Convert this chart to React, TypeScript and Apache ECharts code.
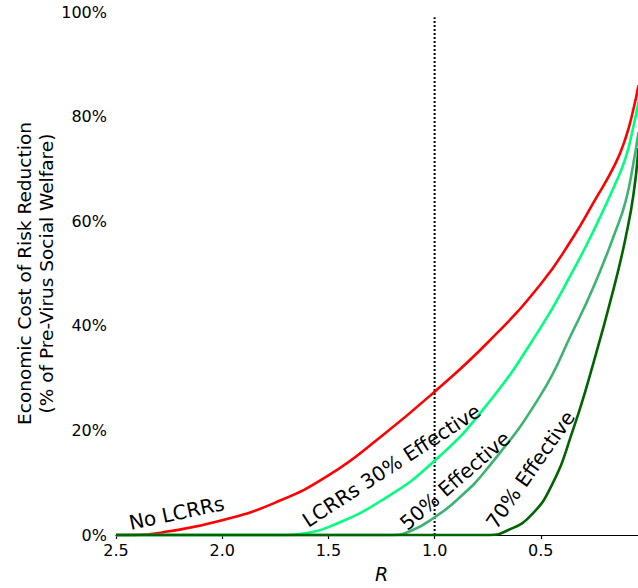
import React, { useEffect, useRef } from "react";
import * as echarts from "echarts";

// ---- Data (R on x axis, cost in % of pre-virus social welfare on y axis) ----
const X_TICKS = [2.5, 2.0, 1.5, 1.0, 0.5];
const Y_TICKS = [0, 20, 40, 60, 80, 100];

const RED_R = [2.5, 2.42, 2.25, 2.0, 1.75, 1.5, 1.25, 1.0, 0.75, 0.5, 0.35, 0.25, 0.15, 0.1, 0.064, 0.04];
const RED_V = [0, 0, 0.7, 2.8, 6.2, 11.4, 18.9, 27.4, 36.8, 48.0, 56.8, 63.7, 70.9, 76.0, 81.4, 86.0];

const L30_R = [2.5, 1.7, 1.6, 1.5, 1.25, 1.0, 0.75, 0.5, 0.35, 0.25, 0.15, 0.1, 0.064, 0.04];
const L30_V = [0, 0, 0.4, 1.5, 6.6, 14.2, 25.1, 39.7, 50.4, 58.3, 67.1, 72.2, 78.1, 82.8];

const L50_R = [2.5, 1.2, 1.1, 1.0, 0.9, 0.75, 0.5, 0.35, 0.25, 0.15, 0.1, 0.064, 0.04];
const L50_V = [0, 0, 1.0, 3.4, 6.5, 12.8, 26.8, 38.9, 47.6, 57.9, 63.9, 71.1, 77.0];

const L70_R = [2.5, 0.74, 0.65, 0.55, 0.45, 0.35, 0.25, 0.15, 0.1, 0.064, 0.04];
const L70_V = [0, 0, 1.0, 3.6, 9.4, 19.9, 33.2, 48.2, 57.0, 65.0, 74.0];

const REF_R = [1.0, 1.0];
const REF_V = [0, 99];

const LABELS = ["No LCRRs", "LCRRs 30% Effective", "50% Effective", "70% Effective"];
const LABEL_R = [2.215, 1.203, 0.904, 0.549];
const LABEL_V = [4.2, 13.3, 10.4, 12.5];
const LABEL_ANGLE = [12, 33, 41, 55];

const Y_TITLE = "Economic Cost of Risk Reduction\n(% of Pre-Virus Social Welfare)";
const X_TITLE = "R";

const FONT = "DejaVu Sans";

const pairs = (xs: number[], ys: number[]) => xs.map((x, i) => [x, ys[i]]);

export default function App() {
  const ref = useRef<HTMLDivElement>(null);

  useEffect(() => {
    if (!ref.current) return;
    const chart = echarts.init(ref.current, undefined, { renderer: "svg" });

    const curve = (name: string, xs: number[], ys: number[], color: string) => ({
      name,
      type: "line",
      data: pairs(xs, ys),
      showSymbol: false,
      smooth: 0.5,
      clip: false,
      lineStyle: { color, width: 2.6 },
      z: 3,
    });

    chart.setOption({
      animation: false,
      backgroundColor: "#ffffff",
      textStyle: { fontFamily: FONT },
      grid: { left: 116, top: 12, width: 531, height: 528, containLabel: false },
      xAxis: {
        type: "value",
        inverse: true,
        min: 0,
        max: 2.5,
        interval: 0.5,
        name: X_TITLE,
        nameLocation: "middle",
        nameGap: 29,
        nameTextStyle: { fontFamily: FONT, fontSize: 19, fontStyle: "italic", color: "#000" },
        axisLine: { show: true, lineStyle: { color: "#000", width: 1.2 } },
        axisTick: { show: true, inside: false, length: 4, lineStyle: { color: "#000", width: 1.2 } },
        axisLabel: {
          fontFamily: FONT,
          fontSize: 16,
          color: "#000",
          margin: 7,
          formatter: (v: number) => (X_TICKS.includes(v) ? v.toFixed(1) : ""),
        },
        splitLine: { show: false },
      },
      yAxis: {
        type: "value",
        min: Y_TICKS[0],
        max: Y_TICKS[Y_TICKS.length - 1],
        interval: 20,
        axisLine: { show: true, lineStyle: { color: "#000", width: 1.2 } },
        axisTick: { show: true, inside: false, length: 4, lineStyle: { color: "#000", width: 1.2 } },
        axisLabel: { fontFamily: FONT, fontSize: 16, color: "#000", margin: 9, formatter: "{value}%" },
        splitLine: { show: false },
      },
      series: [
        {
          name: "R = 1",
          type: "line",
          data: pairs(REF_R, REF_V),
          showSymbol: false,
          clip: false,
          lineStyle: { color: "#000", width: 2, type: "dotted" },
          z: 2,
        },
        curve("No LCRRs", RED_R, RED_V, "#ff0000"),
        curve("LCRRs 30% Effective", L30_R, L30_V, "#00ff7f"),
        curve("50% Effective", L50_R, L50_V, "#3cb371"),
        curve("70% Effective", L70_R, L70_V, "#006400"),
      ],
    });

    const graphics: any[] = LABELS.map((text, i) => {
      const p = chart.convertToPixel({ gridIndex: 0 }, [LABEL_R[i], LABEL_V[i]]) as number[];
      return {
        type: "text",
        x: p[0],
        y: p[1],
        rotation: (LABEL_ANGLE[i] * Math.PI) / 180,
        z: 10,
        style: {
          text,
          fontFamily: FONT,
          fontSize: 20,
          fill: "#000",
          align: "center",
          verticalAlign: "middle",
        },
      };
    });
    const mid = chart.convertToPixel({ gridIndex: 0 }, [2.5, 50]) as number[];
    graphics.push({
      type: "text",
      x: mid[0] - 81,
      y: mid[1],
      rotation: Math.PI / 2,
      z: 10,
      style: {
        text: Y_TITLE,
        fontFamily: FONT,
        fontSize: 18.5,
        lineHeight: 22,
        fill: "#000",
        align: "center",
        verticalAlign: "middle",
      },
    });
    chart.setOption({ graphic: graphics });

    return () => chart.dispose();
  }, []);

  return (
    <div
      style={{
        position: "fixed",
        left: 0,
        top: 0,
        width: 638,
        height: 588,
        overflow: "hidden",
        background: "#fff",
      }}
    >
      <div ref={ref} style={{ width: 670, height: 588 }} />
    </div>
  );
}
